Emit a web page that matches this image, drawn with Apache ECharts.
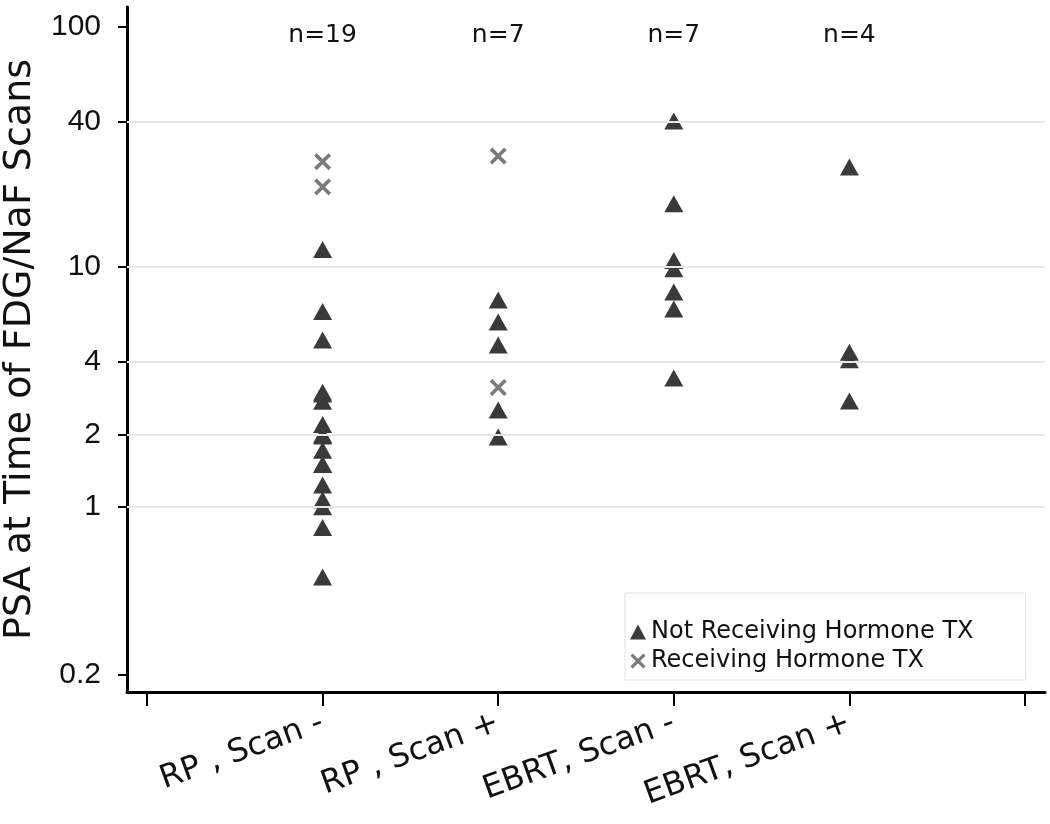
<!DOCTYPE html>
<html>
<head>
<meta charset="utf-8">
<script src="https://cdn.jsdelivr.net/npm/echarts@6/dist/echarts.min.js"></script>
<style>html,body{margin:0;padding:0;background:#fff;}#c{width:1050px;height:824px;}</style>
</head>
<body>
<div id="c"></div>
<script>
const categories = ['RP , Scan -', 'RP , Scan +', 'EBRT, Scan -', 'EBRT, Scan +'];
const nLabels = ['n=19', 'n=7', 'n=7', 'n=4'];
const notHormone = [
  [11.8, 6.5, 4.95, 3.0, 2.95, 2.75, 2.2, 2.0, 1.97, 1.72, 1.5, 1.5, 1.23, 1.07, 1.0, 0.82, 0.51],
  [7.26, 5.88, 4.72, 2.53, 1.95],
  [40.5, 18.3, 10.6, 9.8, 7.85, 6.66, 3.44],
  [26.0, 4.4, 4.1, 2.76]
];
const hormone = [
  [27.4, 21.5],
  [28.9, 3.14],
  [],
  []
];
const yTicks = [0.2, 1, 2, 4, 10, 40, 100];
const gridValues = [1, 2, 4, 10, 40];
const xTicks = [0, 1, 2, 3, 4, 5];
const catPositions = [1, 2, 3, 4];

const xPath = 'path://M0,3 L3,0 L10,7 L17,0 L20,3 L13,10 L20,17 L17,20 L10,13 L3,20 L0,17 L7,10 Z';

function toPoints(groups) {
  const out = [];
  groups.forEach((vals, i) => vals.forEach(v => out.push([catPositions[i], v])));
  return out;
}

const chart = echarts.init(document.getElementById('c'));
chart.setOption({
  animation: false,
  backgroundColor: '#fff',
  grid: { left: 127, top: 7, right: 5, bottom: 132, containLabel: false, outerBoundsMode: 'none' },
  legend: {
    orient: 'vertical',
    left: 625, top: 593,
    itemWidth: 16, itemHeight: 15, itemGap: 5,
    padding: [27, 52, 7, 5],
    backgroundColor: '#fff',
    borderColor: '#e2e2e2', borderWidth: 1,
    textStyle: { fontFamily: 'DejaVu Sans', fontSize: 24, color: '#111' },
    data: [
      { name: 'Not Receiving Hormone TX', icon: 'triangle' },
      { name: 'Receiving Hormone TX', icon: xPath }
    ]
  },
  xAxis: [{
    type: 'value', min: -0.114, max: 5.114, position: 'bottom',
    axisLine: { show: true, onZero: false, lineStyle: { color: '#000', width: 3 } },
    axisTick: { show: true, customValues: xTicks, length: 14, lineStyle: { color: '#000', width: 2 } },
    axisLabel: {
      customValues: catPositions,
      formatter: v => categories[Math.round(v) - 1] || '',
      rotate: 20, margin: 30,
      fontFamily: 'DejaVu Sans', fontSize: 32, color: '#111'
    },
    splitLine: { show: false }
  }, {
    type: 'value', min: -0.114, max: 5.114, position: 'top',
    axisLine: { show: false, onZero: false }, axisTick: { show: false },
    axisLabel: {
      inside: true, customValues: catPositions,
      formatter: v => nLabels[Math.round(v) - 1] || '',
      margin: 16, fontFamily: 'DejaVu Sans', fontSize: 25, color: '#111'
    },
    splitLine: { show: false }
  }],
  yAxis: {
    type: 'log', logBase: 10, min: 0.169, max: 120.8,
    axisLine: { show: true, onZero: false, lineStyle: { color: '#000', width: 3 } },
    axisTick: { show: true, customValues: yTicks, length: 9, lineStyle: { color: '#000', width: 2 } },
    axisLabel: {
      customValues: yTicks, margin: 26,
      fontFamily: 'Liberation Sans', fontSize: 30, color: '#111'
    },
    splitLine: { show: false },
    name: 'PSA at Time of FDG/NaF Scans',
    nameLocation: 'middle', nameGap: 88,
    nameTextStyle: { fontFamily: 'DejaVu Sans', fontSize: 38, color: '#111' }
  },
  series: [{
    type: 'scatter', data: [], z: 1, silent: true,
    markLine: {
      silent: true, symbol: 'none', label: { show: false },
      lineStyle: { color: '#e6e6e6', width: 2, type: 'solid' },
      data: gridValues.map(v => ({ yAxis: v }))
    }
  }, {
    name: 'Not Receiving Hormone TX', type: 'scatter', z: 3,
    symbol: 'triangle', symbolSize: [19, 17],
    itemStyle: { color: '#3a3a3a', opacity: 1 },
    data: toPoints(notHormone)
  }, {
    name: 'Receiving Hormone TX', type: 'scatter', z: 3,
    symbol: xPath, symbolSize: 17,
    itemStyle: { color: '#7a7a7a', opacity: 1 },
    data: toPoints(hormone)
  }]
});
</script>
</body>
</html>
